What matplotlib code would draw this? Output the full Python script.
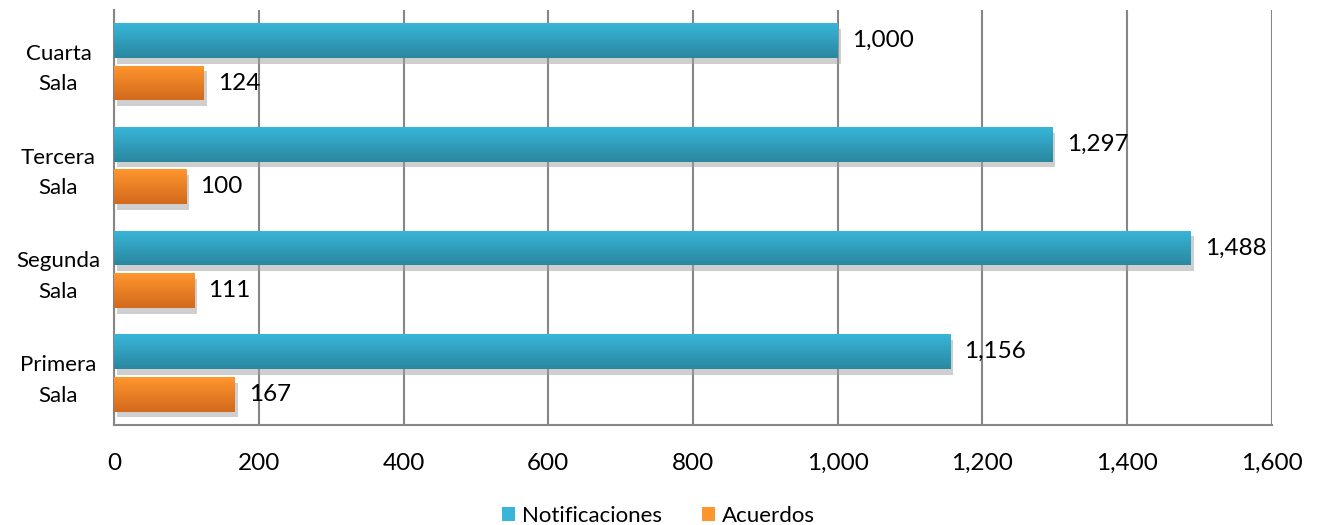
import matplotlib
matplotlib.use('Agg')
import matplotlib.pyplot as plt
import matplotlib.patheffects as pe
from matplotlib.patches import Patch
from matplotlib.colors import LinearSegmentedColormap
import numpy as np

plt.rcParams['font.family'] = ['Lato', 'DejaVu Sans']

# datos
salas = ['Primera\nSala', 'Segunda\nSala', 'Tercera\nSala', 'Cuarta\nSala']
notificaciones = [1156, 1488, 1297, 1000]
acuerdos = [167, 111, 100, 124]
x_ticks = [0, 200, 400, 600, 800, 1000, 1200, 1400, 1600]

# colores (arriba claro, abajo oscuro)
AZUL = ('#38b6d9', '#2a879f')
NARANJA = ('#ff962d', '#d2691d')

fig = plt.figure(figsize=(13.17, 5.25), dpi=100)
ax = fig.add_axes([0.0866, 0.1905, 0.8792, 0.7905])

y = np.arange(len(salas))
h = 0.335
off = 0.205

grad = np.linspace(0, 1, 64).reshape(-1, 1)


def barras_gradiente(ys, vals, colores, etiqueta):
    cmap = LinearSegmentedColormap.from_list(etiqueta, [colores[0], colores[1]])
    bars = ax.barh(ys, vals, height=h, color=colores[1], zorder=3,
                   path_effects=[pe.SimplePatchShadow(offset=(2, -4), shadow_rgbFace='#a0a0a0', alpha=0.5),
                                 pe.Normal()])
    for b in bars:
        x0, y0 = b.get_x(), b.get_y()
        im = ax.imshow(grad, cmap=cmap, aspect='auto', zorder=4,
                       extent=[x0, x0 + b.get_width(), y0, y0 + b.get_height()],
                       origin='upper')
        im.set_clip_path(b)
    for yy, v in zip(ys, vals):
        ax.annotate(f'{v:,}', (v, yy), xytext=(10, 0), textcoords='offset points',
                    va='center', ha='left', fontsize=17.5, zorder=5)
    return bars


barras_gradiente(y + off, notificaciones, AZUL, 'n')
barras_gradiente(y - off, acuerdos, NARANJA, 'a')

ax.set_xlim(0, 1600)
ax.set_ylim(-0.5, 3.5)
ax.set_xticks(x_ticks)
ax.set_xticklabels([f'{t:,}' for t in x_ticks], fontsize=17.5)
ax.set_yticks(y)
ax.set_yticklabels(salas, fontsize=16, ha='center', linespacing=1.65)
ax.tick_params(axis='y', length=0, pad=40)
ax.tick_params(axis='x', length=0, pad=20)

ax.grid(axis='x', color='#868686', linewidth=1.5, zorder=0)
ax.set_axisbelow(True)
for s in ['top', 'right']:
    ax.spines[s].set_visible(False)
for s in ['left', 'bottom']:
    ax.spines[s].set_color('#868686')
    ax.spines[s].set_linewidth(1.5)

handles = [Patch(facecolor=AZUL[0], edgecolor='none', label='Notificaciones'),
           Patch(facecolor=NARANJA[0], edgecolor='none', label='Acuerdos')]
fig.legend(handles=handles, loc='lower center', bbox_to_anchor=(0.5, -0.04), ncol=2,
           frameon=False, fontsize=16, handlelength=0.6, handleheight=0.6,
           handletextpad=0.3, columnspacing=1.8)

fig.savefig('out.png', dpi=100)
